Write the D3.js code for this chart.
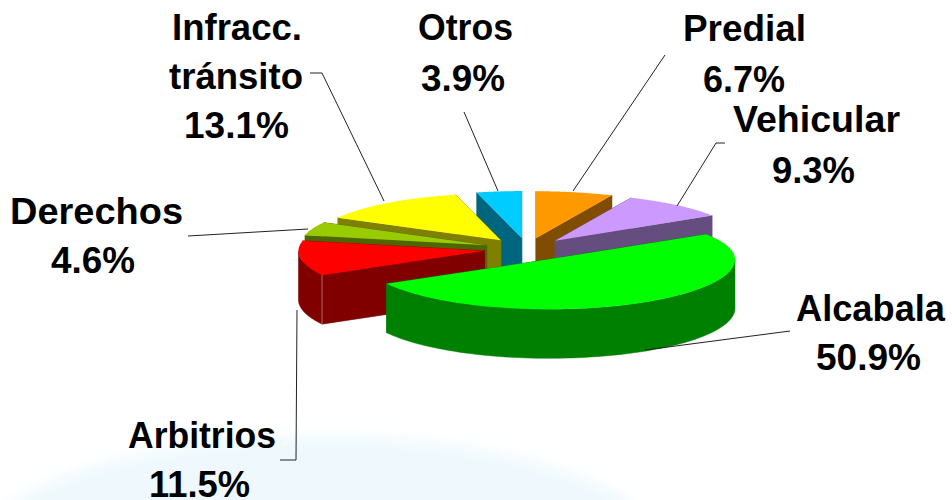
<!DOCTYPE html>
<html><head><meta charset="utf-8">
<script src="https://cdn.jsdelivr.net/npm/d3@7/dist/d3.min.js"></script>
<style>html,body{margin:0;padding:0;background:#fff}svg{display:block}
text{font-family:"Liberation Sans",Arial,sans-serif;font-weight:700;font-size:37px;fill:#000;text-anchor:middle}</style>
</head><body><svg id="c" width="952" height="500"></svg>
<script>
const categories = ["Predial","Vehicular","Alcabala","Arbitrios","Derechos","Infracc. tránsito","Otros"];
const shares = [6.7,9.3,50.9,11.5,4.6,13.1,3.9];
const topColors = ["#FF9900","#CC99FF","#00FF00","#FF0000","#99CC00","#FFFF00","#00CCFF"];
const sideColors = ["#804D00","#664D80","#008000","#800000","#4D6600","#808000","#006680"];

// label layout: text, centre x, baseline y, drawn width
const labelLines = [
 [["Predial",744.5,41,123],["6.7%",744,92,82]],
 [["Vehicular",816.5,132,167],["9.3%",813.5,183,83]],
 [["Alcabala",870.5,321,149],["50.9%",868.5,370,105]],
 [["Arbitrios",202,448,148],["11.5%",199.5,497,101]],
 [["Derechos",96.5,224,173],["4.6%",93,273,84]],
 [["Infracc.",237,40,130],["tránsito",236,89,134],["13.1%",236.5,138,105]],
 [["Otros",465.5,40,95],["3.9%",463,91,84]]
];
const leaders = [
 [[665,55],[573,191]],
 [[725,143],[716,143],[677,206]],
 [[790,331],[645,350]],
 [[280,460],[296,460],[297,310]],
 [[188,236],[308,229]],
 [[310,73],[322,73],[384,201]],
 [[464,112],[498,191]]
];

const cx=527, cy=249, rx=186, ryFront=50, ryBack=47, depth=49, ex=43, eyFront=12, eyBack=11;
const svg=d3.select("#c");
const defs=svg.append("defs");
defs.append("filter").attr("id","soft").attr("x","-20%").attr("y","-20%").attr("width","140%").attr("height","140%")
  .append("feGaussianBlur").attr("stdDeviation",7);
svg.append("ellipse").attr("cx",322).attr("cy",556).attr("rx",345).attr("ry",120)
  .attr("fill","#EFF9FD").attr("filter","url(#soft)");

const pie=d3.pie().sort(null).value(d=>d)(shares);
const pt=(a,ox,oy)=>{const c=Math.cos(a);return [ox+rx*Math.sin(a), oy-(c>0?ryBack:ryFront)*c];};
const arcPts=(s,e,ox,oy)=>d3.range(0,81).map(i=>pt(s+(e-s)*i/80,ox,oy));
const slices=pie.map((p,i)=>{
  const mid=(p.startAngle+p.endAngle)/2, c=Math.cos(mid);
  return {i,s:p.startAngle,e:p.endAngle,mid,ox:cx+ex*Math.sin(mid),oy:cy-(c>0?eyBack:eyFront)*c};
}).sort((a,b)=>Math.cos(b.mid)-Math.cos(a.mid));
const line=d3.line();
const down=p=>[p[0],p[1]+depth];

slices.forEach(d=>{
  const g=svg.append("g"), apex=[d.ox,d.oy], rim=arcPts(d.s,d.e,d.ox,d.oy);
  const a=rim[0], b=rim[rim.length-1], side=sideColors[d.i];
  const wall=pts=>g.append("path").attr("d",line(pts)+"Z").attr("fill",side).attr("stroke",side).attr("stroke-width",.5);
  wall([apex,a,down(a),down(apex)]);
  wall([apex,b,down(b),down(apex)]);
  // outer wall: only the part of the rim that faces the viewer
  const fs=Math.max(d.s,Math.PI/2), fe=Math.min(d.e,3*Math.PI/2);
  if(fe>fs){
    const front=arcPts(fs,fe,d.ox,d.oy);
    wall(front.concat(front.slice().reverse().map(down)));
  }
  // pale seam where a visible cut face meets the outer wall
  if(Math.cos(d.s)<0){
    g.append("path").attr("d",line([a,down(a)])).attr("fill","none")
     .attr("stroke",d3.interpolateRgb(side,"#fff")(.4)).attr("stroke-width",1);
  }
  g.append("path").attr("d",line([apex,...rim])+"Z").attr("fill",topColors[d.i]);
});

leaders.forEach(l=>svg.append("path").attr("d",line(l)).attr("fill","none").attr("stroke","#222").attr("stroke-width",1));
labelLines.forEach(ls=>ls.forEach(([t,x,y,w])=>svg.append("text").attr("x",x).attr("y",y)
  .attr("textLength",w).attr("lengthAdjust","spacingAndGlyphs").text(t)));
</script></body></html>
